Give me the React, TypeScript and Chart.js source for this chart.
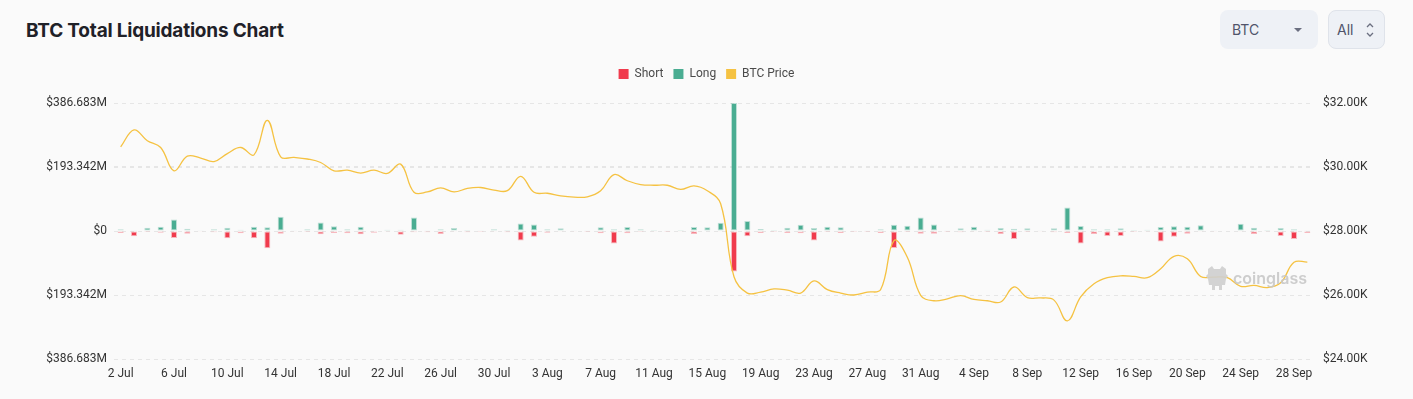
import React, { useEffect, useRef } from "react";
import { Chart, registerables } from "chart.js";

Chart.register(...registerables);

const dates = [
  "2 Jul","3 Jul","4 Jul","5 Jul","6 Jul","7 Jul","8 Jul","9 Jul","10 Jul","11 Jul",
  "12 Jul","13 Jul","14 Jul","15 Jul","16 Jul","17 Jul","18 Jul","19 Jul","20 Jul","21 Jul",
  "22 Jul","23 Jul","24 Jul","25 Jul","26 Jul","27 Jul","28 Jul","29 Jul","30 Jul","31 Jul",
  "1 Aug","2 Aug","3 Aug","4 Aug","5 Aug","6 Aug","7 Aug","8 Aug","9 Aug","10 Aug",
  "11 Aug","12 Aug","13 Aug","14 Aug","15 Aug","16 Aug","17 Aug","18 Aug","19 Aug","20 Aug",
  "21 Aug","22 Aug","23 Aug","24 Aug","25 Aug","26 Aug","27 Aug","28 Aug","29 Aug","30 Aug",
  "31 Aug","1 Sep","2 Sep","3 Sep","4 Sep","5 Sep","6 Sep","7 Sep","8 Sep","9 Sep",
  "10 Sep","11 Sep","12 Sep","13 Sep","14 Sep","15 Sep","16 Sep","17 Sep","18 Sep","19 Sep",
  "20 Sep","21 Sep","22 Sep","23 Sep","24 Sep","25 Sep","26 Sep","27 Sep","28 Sep","29 Sep",
];

// Long liquidations (million USD)
const longLiq = [
  5, 2, 10, 13, 35, 7, 2, 5, 10, 4,
  13, 11, 43, 1, 5, 26, 14, 5, 13, 2,
  4, 4, 41, 2, 5, 9, 3, 2, 5, 3,
  23, 20, 5, 8, 2, 1, 11, 5, 12, 5,
  3, 1, 3, 12, 11, 25, 386.683, 30, 6, 3,
  10, 19, 9, 13, 11, 1, 1, 5, 19, 16,
  41, 20, 2, 8, 13, 4, 9, 7, 8, 1,
  8, 71, 15, 5, 5, 8, 3, 4, 12, 14,
  13, 17, 2, 0, 22, 10, 3, 9, 5, 2,
];

// Short liquidations (million USD, magnitude)
const shortLiq = [
  6, 16, 3, 5, 21, 8, 1, 4, 22, 7,
  22, 52, 8, 2, 3, 10, 6, 7, 10, 5,
  1, 11, 4, 4, 9, 1, 4, 3, 2, 4,
  29, 17, 5, 2, 1, 3, 7, 38, 7, 3,
  1, 3, 1, 9, 0, 1, 122, 16, 6, 3,
  6, 7, 29, 3, 6, 3, 3, 6, 51, 3,
  8, 8, 3, 4, 2, 3, 9, 24, 3, 2,
  4, 6, 38, 9, 15, 15, 3, 1, 32, 17,
  8, 2, 2, 0, 1, 9, 2, 15, 24, 6,
];

// BTC price (thousand USD)
const btcPrice = [
  30.63, 31.16, 30.82, 30.61, 29.88, 30.34, 30.28, 30.17, 30.42, 30.61,
  30.38, 31.46, 30.32, 30.3, 30.25, 30.14, 29.88, 29.9, 29.81, 29.9,
  29.8, 30.09, 29.21, 29.22, 29.35, 29.22, 29.33, 29.36, 29.28, 29.26,
  29.71, 29.21, 29.18, 29.1, 29.06, 29.07, 29.26, 29.76, 29.57, 29.45,
  29.43, 29.43, 29.3, 29.41, 29.26, 28.85, 26.57, 26.06, 26.09, 26.19,
  26.15, 26.06, 26.44, 26.17, 26.06, 26.0, 26.09, 26.17, 27.7, 27.18,
  25.99, 25.82, 25.88, 25.98, 25.86, 25.82, 25.78, 26.25, 25.92, 25.91,
  25.84, 25.19, 25.94, 26.35, 26.54, 26.6, 26.58, 26.54, 26.82, 27.21,
  27.13, 26.58, 26.56, 26.54, 26.27, 26.3, 26.23, 26.38, 27.02, 27.03,
];

const leftTicks = [-386.683, -193.342, 0, 193.342, 386.683];
const rightTicks = [24, 26, 28, 30, 32];

const RED = "#f03b4d";
const GREEN = "#4aad92";
const YELLOW = "#f5c242";
const FONT = "Roboto, 'Noto Sans', sans-serif";

export default function App() {
  const canvasRef = useRef<HTMLCanvasElement | null>(null);

  useEffect(() => {
    document.body.style.margin = "0";
    document.body.style.background = "#fafafa";
    const ctx = canvasRef.current;
    if (!ctx) return;

    const legendSpacer = {
      id: "legendSpacer",
      beforeInit(chart: any) {
        const origFit = chart.legend.fit;
        chart.legend.fit = function () {
          origFit.bind(chart.legend)();
          this.height += 13;
        };
      },
    };

    const chart = new Chart(ctx, {
      type: "bar",
      data: {
        labels: dates,
        datasets: [
          {
            type: "bar",
            label: "Short",
            data: shortLiq.map((v) => -v),
            backgroundColor: RED,
            borderColor: "rgba(240,59,77,0.35)",
            borderWidth: 1,
            borderSkipped: false,
            barPercentage: 0.5,
            categoryPercentage: 0.9,
            yAxisID: "y",
            stack: "liq",
            order: 2,
          },
          {
            type: "bar",
            label: "Long",
            data: longLiq,
            backgroundColor: GREEN,
            borderColor: "rgba(74,173,146,0.35)",
            borderWidth: 1,
            borderSkipped: false,
            barPercentage: 0.5,
            categoryPercentage: 0.9,
            yAxisID: "y",
            stack: "liq",
            order: 2,
          },
          {
            type: "line",
            label: "BTC Price",
            data: btcPrice,
            borderColor: YELLOW,
            backgroundColor: YELLOW,
            borderWidth: 1.3,
            pointRadius: 0,
            tension: 0.4,
            yAxisID: "y1",
            order: 1,
          } as any,
        ],
      },
      options: {
        animation: false,
        responsive: true,
        maintainAspectRatio: false,
        layout: { padding: { left: 0, right: 0, top: 0, bottom: 0 } },
        plugins: {
          legend: {
            position: "top",
            labels: {
              boxWidth: 10,
              boxHeight: 10,
              padding: 10,
              color: "#4a4a4a",
              font: { family: FONT, size: 12 },
              generateLabels: (c: any) =>
                c.data.datasets.map((d: any, i: number) => ({
                  text: d.label,
                  fillStyle: d.type === "line" ? YELLOW : d.backgroundColor,
                  strokeStyle: d.type === "line" ? YELLOW : d.backgroundColor,
                  lineWidth: 0,
                  hidden: false,
                  datasetIndex: i,
                  fontColor: "#4a4a4a",
                })),
            },
          },
          tooltip: { enabled: false },
        },
        scales: {
          x: {
            stacked: true,
            offset: true,
            grid: { display: false, drawTicks: false },
            border: { display: false },
            ticks: {
              autoSkip: false,
              maxRotation: 0,
              padding: 8,
              color: "#333",
              font: { family: FONT, size: 12 },
              callback: (_v: any, i: number) => (i % 4 === 0 ? dates[i] : null),
            },
            afterFit: (s: any) => {
              s.height = 40;
            },
          },
          y: {
            stacked: true,
            position: "left",
            min: -386.683,
            max: 386.683,
            afterBuildTicks: (s: any) => {
              s.ticks = leftTicks.map((v) => ({ value: v }));
            },
            grid: { color: "#e6e6e6", drawTicks: false, lineWidth: 1 },
            border: { display: false, dash: [4, 4] },
            ticks: {
              padding: 7,
              color: "#333",
              font: { family: FONT, size: 12 },
              callback: (v: any) =>
                Number(v) === 0 ? "$0" : "$" + Math.abs(Number(v)).toFixed(3) + "M",
            },
            afterFit: (s: any) => {
              s.width = 114;
            },
          },
          y1: {
            position: "right",
            min: 24,
            max: 32,
            afterBuildTicks: (s: any) => {
              s.ticks = rightTicks.map((v) => ({ value: v }));
            },
            grid: { color: "#e6e6e6", drawTicks: false, lineWidth: 1 },
            border: { display: false, dash: [4, 4] },
            ticks: {
              padding: 9,
              color: "#333",
              font: { family: FONT, size: 12 },
              callback: (v: any) => "$" + Number(v).toFixed(2) + "K",
            },
            afterFit: (s: any) => {
              s.width = 99;
            },
          },
        },
      } as any,
      plugins: [legendSpacer],
    });

    return () => chart.destroy();
  }, []);

  return (
    <div
      style={{
        position: "fixed",
        left: 0,
        top: 0,
        width: 1413,
        height: 399,
        background: "#fafafa",
        fontFamily: "Inter, 'Noto Sans', sans-serif",
        overflow: "hidden",
      }}
    >
      <div
        style={{
          position: "absolute",
          left: 26,
          top: 19,
          fontSize: 19,
          fontWeight: 700,
          color: "#1f2128",
          letterSpacing: -0.2,
          whiteSpace: "nowrap",
        }}
      >
        BTC Total Liquidations Chart
      </div>

      <div
        style={{
          position: "absolute",
          left: 1220,
          top: 10,
          width: 98,
          height: 39,
          background: "#eef1f6",
          borderRadius: 8,
        }}
      >
        <span
          style={{
            position: "absolute",
            left: 12,
            top: 11,
            fontSize: 14,
            color: "#50546a",
          }}
        >
          BTC
        </span>
        <svg
          style={{ position: "absolute", left: 73, top: 17 }}
          width="10"
          height="6"
          viewBox="0 0 10 6"
        >
          <path d="M1 1 L9 1 L5 5 Z" fill="#6b6f80" />
        </svg>
      </div>

      <div
        style={{
          position: "absolute",
          left: 1328,
          top: 10,
          width: 55,
          height: 37,
          background: "#eef1f6",
          border: "1px solid #dfe3ea",
          borderRadius: 8,
        }}
      >
        <span
          style={{
            position: "absolute",
            left: 8,
            top: 10,
            fontSize: 14,
            color: "#50546a",
          }}
        >
          All
        </span>
        <svg
          style={{ position: "absolute", left: 37, top: 11 }}
          width="8"
          height="16"
          viewBox="0 0 8 16"
        >
          <path
            d="M1 5 L4 2 L7 5 M1 11 L4 14 L7 11"
            fill="none"
            stroke="#6b6f80"
            strokeWidth="1.3"
          />
        </svg>
      </div>

      <div style={{ position: "absolute", left: 0, top: 58, width: 1413, height: 341 }}>
        <canvas ref={canvasRef} />
      </div>

      <div
        style={{
          position: "absolute",
          left: 1205,
          top: 265,
          display: "flex",
          alignItems: "center",
          pointerEvents: "none",
          opacity: 0.9,
        }}
      >
        <svg width="24" height="26" viewBox="0 0 24 26">
          <path
            d="M3 4 L7 1 L9 4 L15 4 L17 1 L21 4 L21 9 L23 11 L21 14 L20 20 L17 20 L17 25 L14 25 L14 21 L10 21 L10 25 L7 25 L7 20 L4 20 L3 14 L1 11 L3 9 Z"
            fill="#cfcfcf"
          />
        </svg>
        <span
          style={{
            marginLeft: 4,
            fontSize: 16,
            fontWeight: 600,
            color: "#c8c8c8",
            fontFamily: "Inter, sans-serif",
          }}
        >
          coinglass
        </span>
      </div>
    </div>
  );
}
